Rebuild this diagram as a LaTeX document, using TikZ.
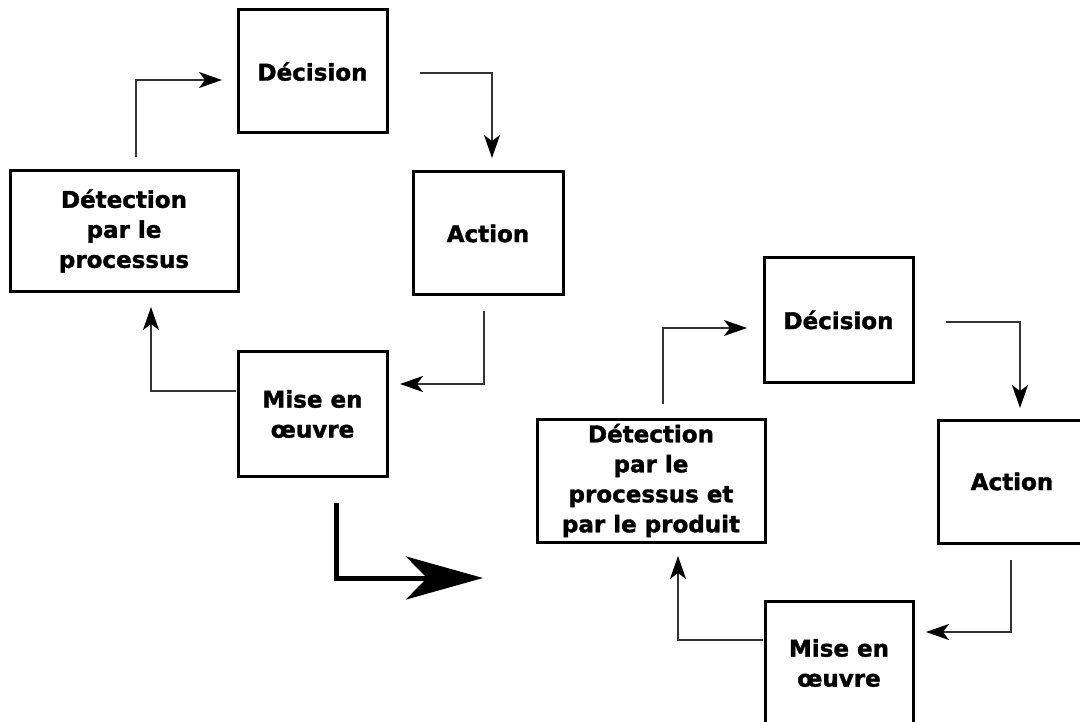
\documentclass[tikz,border=0pt]{standalone}
\usepackage{fontspec}
\setmainfont{DejaVu Sans}[BoldFeatures={FakeBold=1.5}]
\usetikzlibrary{arrows.meta}
\begin{document}
\begin{tikzpicture}[x=1pt,y=-1pt,
  box/.style={draw=black,line width=3pt,align=center,inner sep=0pt,
    font=\fontsize{23}{30}\selectfont\bfseries},
  conn/.style={draw=black!80,line width=1.8pt,
    -{Stealth[length=23pt,width=16pt,inset=6pt,color=black,fill=black]}},
  bigarrow/.style={draw=black,line width=5pt,
    -{Stealth[length=77pt,width=43pt,inset=21pt]}}]
\useasboundingbox (0,0) rectangle (1080,722);
% left cycle
\node[box,minimum width=149pt,minimum height=123pt] (decL) at (312.5,71.5) {Décision};
\node[box,minimum width=228pt,minimum height=121pt] (detL) at (124,231) {Détection\\par le\\processus};
\node[box,minimum width=150pt,minimum height=123pt] (actL) at (488,233.5) {Action};
\node[box,minimum width=149pt,minimum height=124pt] (misL) at (312.5,414) {Mise en\\œuvre};
% right cycle
\node[box,minimum width=149pt,minimum height=124pt] (decR) at (838.5,320) {Décision};
\node[box,minimum width=228pt,minimum height=123pt] (detR) at (651,480.5) {Détection\\par le\\processus et\\par le produit};
\node[box,minimum width=150pt,minimum height=123pt,text width=150pt] (actR) at (1013,481.5) {\hspace*{-2pt}Action};
\node[box,minimum width=148pt,minimum height=124pt] (misR) at (839,663) {Mise en\\œuvre};
% connector end points
\coordinate (l1s) at (136,157); \coordinate (l1e) at (222,80);
\coordinate (l2s) at (420,73);  \coordinate (l2e) at (492,158);
\coordinate (l3s) at (484,311); \coordinate (l3e) at (400,384);
\coordinate (l4s) at (236,391); \coordinate (l4e) at (151,307);
\coordinate (r1s) at (663,404); \coordinate (r1e) at (747,328);
\coordinate (r2s) at (946,322); \coordinate (r2e) at (1020,408);
\coordinate (r3s) at (1011,560);\coordinate (r3e) at (926,632);
\coordinate (r4s) at (763,640); \coordinate (r4e) at (678,556);
\coordinate (bs) at (336,503); \coordinate (be) at (483,578);
\draw[conn] (l1s) |- (l1e);
\draw[conn] (l2s) -| (l2e);
\draw[conn] (l3s) |- (l3e);
\draw[conn] (l4s) -| (l4e);
\draw[conn] (r1s) |- (r1e);
\draw[conn] (r2s) -| (r2e);
\draw[conn] (r3s) |- (r3e);
\draw[conn] (r4s) -| (r4e);
\draw[bigarrow] (bs) |- (be);
\end{tikzpicture}
\end{document}
